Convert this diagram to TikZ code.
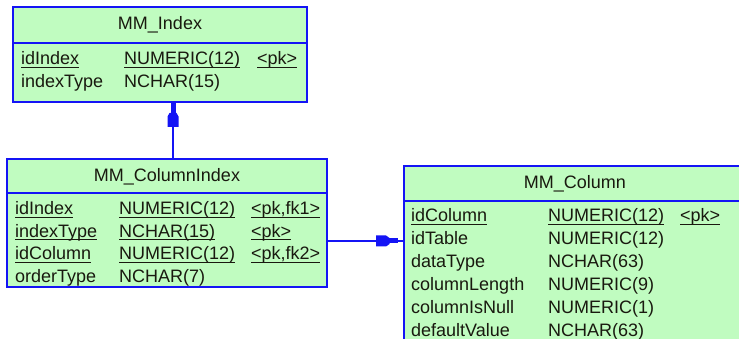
\documentclass[tikz,border=0pt]{standalone}
\usepackage{fontspec}
\setmainfont{Liberation Sans}
\definecolor{erblue}{RGB}{20,20,245}
\definecolor{ergreen}{RGB}{192,252,192}
\definecolor{ertext}{RGB}{25,25,15}
% one text cell of a table, placed by its baseline
\newcommand\cell[3]{\node[cellbox] (#1) at (#2) {#3};}
% a key cell: the same, underlined
\newcommand\keycell[3]{\node[cellbox] (#1) at (#2) {#3};
  \draw[keyline] ([yshift=-2.6pt]#1.base west) -- ([yshift=-2.6pt]#1.base east);}
\begin{document}
\begin{tikzpicture}[x=1pt,y=-1pt,
  tablebox/.style={draw=erblue, fill=ergreen, line width=1.7pt, inner sep=0pt},
  headrule/.style={draw=erblue, line width=1.7pt},
  link/.style={draw=erblue, line width=1.7pt},
  marker/.style={fill=erblue},
  cellbox/.style={anchor=base west, inner sep=0pt, text=ertext, font=\fontsize{18}{20}\selectfont},
  title/.style={anchor=base, inner sep=0pt, text=ertext, font=\fontsize{18}{20}\selectfont},
  keyline/.style={draw=ertext, line width=1.1pt}]
\useasboundingbox (0,0) rectangle (739,339);
\clip (0,0) rectangle (739,339);

% ---- MM_Index ----
\node[tablebox, minimum width=294, minimum height=95] (idx) at (160,54.5) {};
\coordinate (idxrule) at (0,43);
\draw[headrule] (idx.west |- idxrule) -- (idx.east |- idxrule);
\node[title] (idxT) at (160,30) {MM\_Index};
\keycell{ia}{21,65}{idIndex}
\keycell{ib}{124,65}{NUMERIC(12)}
\keycell{ic}{257,65}{<pk>}
\cell{id}{21,88}{indexType}
\cell{ie}{124,88}{NCHAR(15)}

% ---- MM_ColumnIndex ----
\node[tablebox, minimum width=320, minimum height=128] (ci) at (167,223) {};
\coordinate (cirule) at (0,193);
\draw[headrule] (ci.west |- cirule) -- (ci.east |- cirule);
\node[title] (ciT) at (167,182) {MM\_ColumnIndex};
\keycell{ca}{15,214.5}{idIndex}
\keycell{cb}{119,214.5}{NUMERIC(12)}
\keycell{cc}{251,214.5}{<pk,fk1>}
\keycell{cd}{15,237}{indexType}
\keycell{ce}{119,237}{NCHAR(15)}
\keycell{cf}{251,237}{<pk>}
\keycell{cg}{15,259.5}{idColumn}
\keycell{ch}{119,259.5}{NUMERIC(12)}
\keycell{ci3}{251,259.5}{<pk,fk2>}
\cell{cj}{15,282}{orderType}
\cell{ck}{119,282}{NCHAR(7)}

% ---- MM_Column ----
\node[tablebox, minimum width=356, minimum height=194] (col) at (582,263) {};
\coordinate (colrule) at (0,201);
\draw[headrule] (col.west |- colrule) -- (col.east |- colrule);
\node[title] (colT) at (575,189) {MM\_Column};
\keycell{ma}{411,222}{idColumn}
\keycell{mb}{548,222}{NUMERIC(12)}
\keycell{mc}{680,222}{<pk>}
\cell{md}{411,244.8}{idTable}
\cell{me}{548,244.8}{NUMERIC(12)}
\cell{mf}{411,267.6}{dataType}
\cell{mg}{548,267.6}{NCHAR(63)}
\cell{mh}{411,290.4}{columnLength}
\cell{mi}{548,290.4}{NUMERIC(9)}
\cell{mj}{411,313.2}{columnIsNull}
\cell{mk}{548,313.2}{NUMERIC(1)}
\cell{ml}{411,336}{defaultValue}
\cell{mm}{548,336}{NCHAR(63)}

% ---- references ----
\coordinate (vx) at (173,0);
\coordinate (hy) at (0,241);
\draw[link] (idx.south -| vx) -- (ci.north -| vx);
\draw[link] (ci.east |- hy) -- (col.west |- hy);

% reference end markers (stem at the parent table, block behind it)
\fill[marker] (170.5,103) rectangle (175.5,113.5);
\fill[marker] (169.5,113) -- (176.5,113) -- (178.5,116.5) -- (178.5,127)
  -- (167.5,127) -- (167.5,116.5) -- cycle;
\fill[marker] (389,238.5) rectangle (398,243.5);
\fill[marker] (376,235.5) -- (386,235.5) -- (389.5,238) -- (389.5,244)
  -- (386,246.5) -- (376,246.5) -- cycle;
\end{tikzpicture}
\end{document}
